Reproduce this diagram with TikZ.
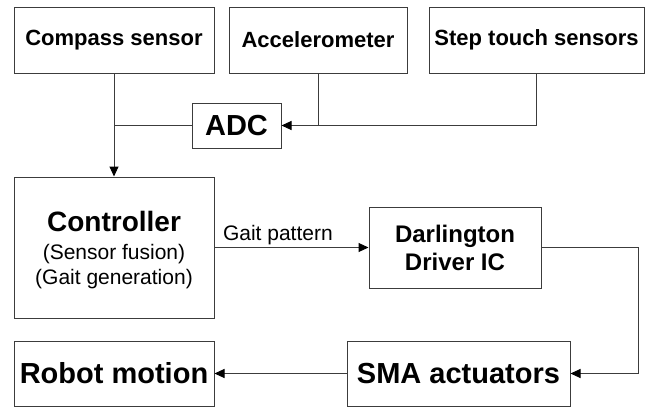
\documentclass[tikz,border=0pt]{standalone}
\usepackage{fontspec}
\setmainfont{Liberation Sans}
\usetikzlibrary{arrows.meta}
\definecolor{linegray}{HTML}{3C3C3C}

\begin{document}
\begin{tikzpicture}[x=1pt, y=-1pt,
  box/.style={draw=linegray, line width=1pt, rectangle, inner sep=0pt,
    align=center, text=black, font=\bfseries\fontsize{22}{26}\selectfont},
  big/.style={box, font=\bfseries\fontsize{29}{32}\selectfont},
  conn/.style={draw=linegray, line width=1pt},
  arr/.style={conn, -{Triangle[length=10pt, width=9pt, color=black]}}]

  \useasboundingbox[fill=white] (0,0) rectangle (648,407);

  % sensors
  \node[box, minimum width=200pt, minimum height=66pt] (compass) at (114,40) {Compass sensor};
  \node[box, minimum width=178pt, minimum height=66pt] (accel) at (318,40) {Accelerometer};
  \node[box, minimum width=215pt, minimum height=66pt] (step) at (536.5,40) {Step touch sensors};
  \node[big, minimum width=89pt, minimum height=45pt] (adc) at (236.5,125.5) {ADC};

  % processing
  \node[box, minimum width=200pt, minimum height=141pt,
    font=\bfseries\fontsize{21}{25}\selectfont] (ctrl) at (114,247.5)
    {\rule{0pt}{26pt}{\fontsize{28}{30}\selectfont Controller}\\[3pt]
     {\mdseries (Sensor fusion)}\\
     {\mdseries (Gait generation)}};
  \node[box, minimum width=172pt, minimum height=81pt, font=\bfseries\fontsize{24}{28}\selectfont]
    (drv) at (455,247.5) {Darlington\\Driver IC};

  % outputs
  \node[big, minimum width=223pt, minimum height=65pt] (sma) at (458.5,373.5) {SMA actuators};
  \node[big, minimum width=200pt, minimum height=65pt] (robot) at (114,373.5) {Robot motion};

  % sensor wiring
  \draw[arr] (compass.south) -- (ctrl.north);
  \draw[conn] (adc.west) -- (adc.west -| compass.south);
  \draw[arr] (accel.south) |- (adc.east);
  \draw[conn] (step.south) |- (accel.south |- adc.east);

  % control chain
  \draw[arr] (ctrl.east |- drv.west) -- node[pos=0, anchor=south west, inner sep=0pt,
    yshift=2pt, xshift=8pt, font=\fontsize{21}{22}\selectfont] (gait) {Gait pattern} (drv.west);
  \coordinate (turn) at (638,247.5);
  \draw[arr] (drv.east) -- (turn) |- (sma.east);
  \draw[arr] (sma.west) -- (robot.east);
\end{tikzpicture}
\end{document}
